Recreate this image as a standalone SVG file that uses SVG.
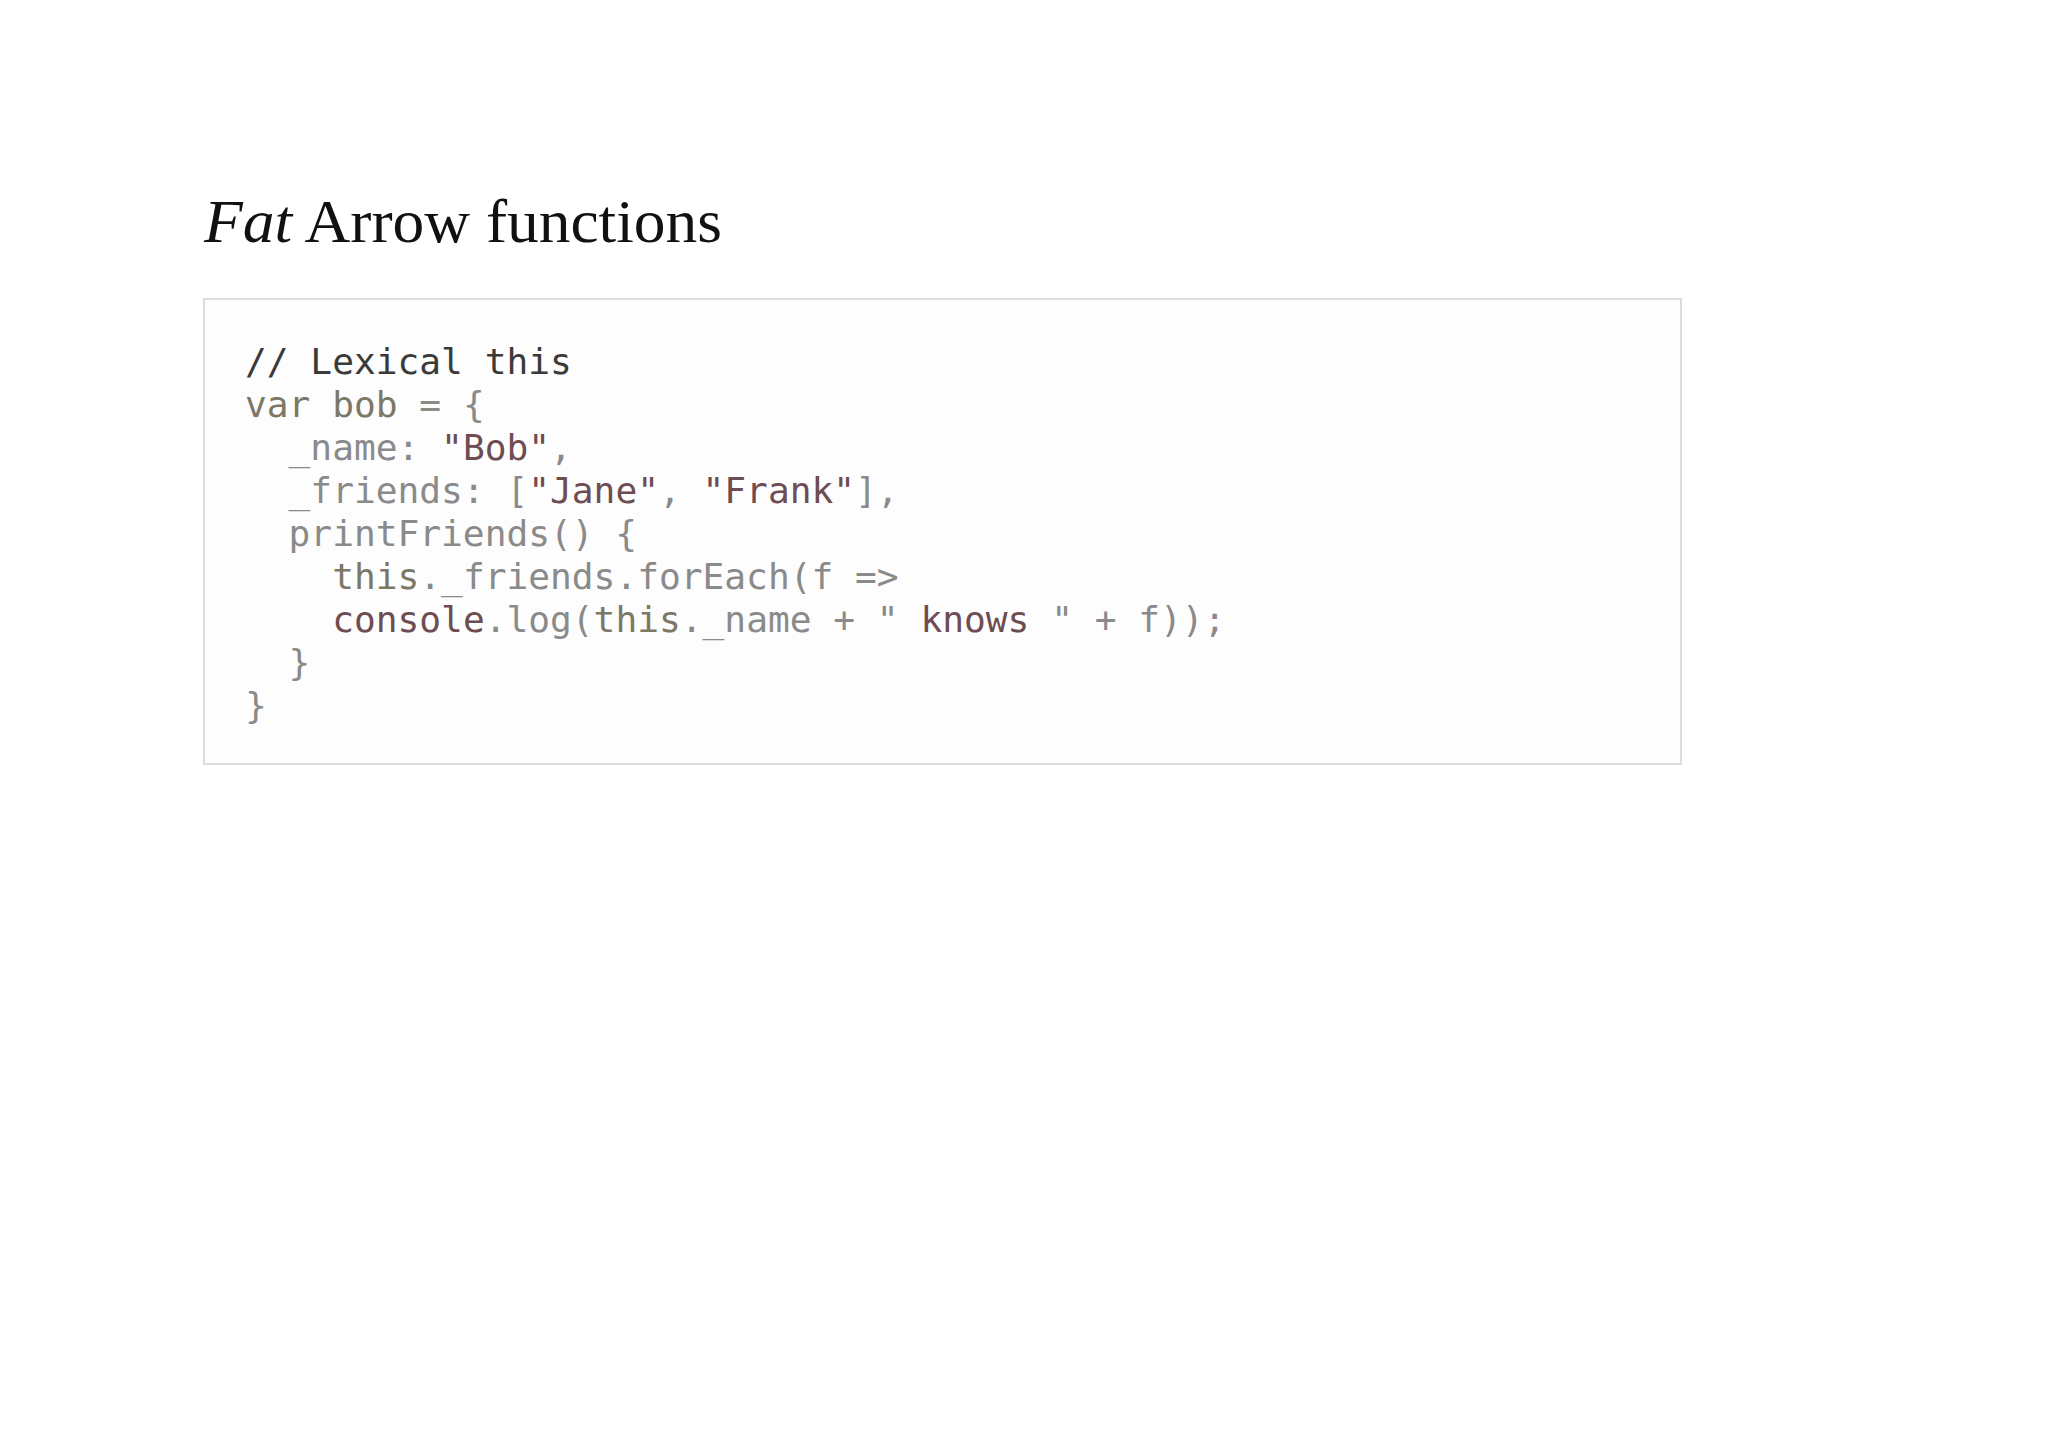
<svg xmlns="http://www.w3.org/2000/svg" width="2048" height="1449" viewBox="0 0 2048 1449">
<style>
.code{font-family:"DejaVu Sans Mono","Liberation Mono",monospace;font-size:36.2px;white-space:pre;fill:#8a8a8a}
.c{fill:#3a3a3a}.k{fill:#7d7766}.s{fill:#6e4c52}.t{fill:#7d7766}
</style>
<rect width="2048" height="1449" fill="#ffffff"/>
<g id="title"><text x="204" y="242" font-family="Liberation Serif,serif" font-size="62" fill="#111" textLength="518" lengthAdjust="spacingAndGlyphs"><tspan font-style="italic">Fat</tspan> Arrow functions</text></g>
<g id="codebox">
<rect x="204" y="299" width="1477" height="465" fill="#fdfdfd" stroke="#dddddd" stroke-width="2"/>
<text class="code" xml:space="preserve">
<tspan x="245" y="374" class="c">// Lexical this</tspan>
<tspan x="245" y="417"><tspan class="k">var bob</tspan> = {</tspan>
<tspan x="245" y="460">  _name: <tspan class="s">"Bob"</tspan>,</tspan>
<tspan x="245" y="503">  _friends: [<tspan class="s">"Jane"</tspan>, <tspan class="s">"Frank"</tspan>],</tspan>
<tspan x="245" y="546">  printFriends() {</tspan>
<tspan x="245" y="589">    <tspan class="t">this</tspan>._friends.forEach(f =&gt;</tspan>
<tspan x="245" y="632">    <tspan class="s">console</tspan>.log(<tspan class="t">this</tspan>._name + " <tspan class="s">knows</tspan> " + f));</tspan>
<tspan x="245" y="675">  }</tspan>
<tspan x="245" y="718">}</tspan>
</text>
</g>
</svg>
